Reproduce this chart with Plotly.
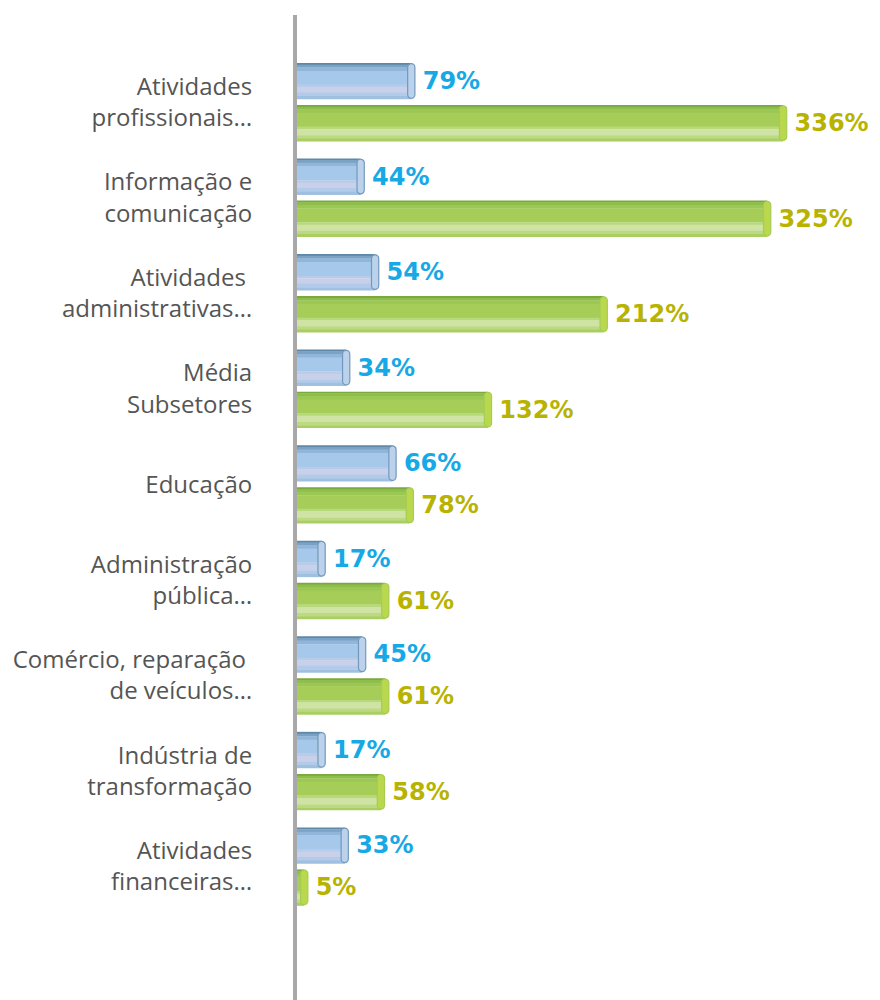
import plotly.graph_objects as go

categories = [
    "Atividades<br>profissionais…",
    "Informação e<br>comunicação",
    "Atividades <br>administrativas…",
    "Média<br>Subsetores",
    "Educação",
    "Administração<br>pública…",
    "Comércio, reparação <br>de veículos…",
    "Indústria de<br>transformação",
    "Atividades<br>financeiras…",
]
blue_values = [79, 44, 54, 34, 66, 17, 45, 17, 33]
green_values = [336, 325, 212, 132, 78, 61, 61, 58, 5]

pos = list(range(len(categories)))

THICK = 0.377
HALF_SHIFT = 0.22
CAP_BACK = 2.5   # cap start behind the bar end (x units)
CAP_LEN = 5.0    # cap length (x units)

# cylinder shading bands: (from-top fraction, to fraction, colour)
blue_bands = [
    (0.00, 0.05, "#5f88a8"),
    (0.05, 0.12, "#7aa2c4"),
    (0.12, 0.22, "#92b6da"),
    (0.22, 0.60, "#a6c8ea"),
    (0.60, 0.67, "#b7cce9"),
    (0.67, 0.82, "#c8d0ea"),
    (0.82, 0.92, "#b3cbea"),
    (0.92, 1.00, "#a0c0e2"),
]
green_bands = [
    (0.00, 0.05, "#7aa93e"),
    (0.05, 0.12, "#8fbd4b"),
    (0.12, 0.22, "#9bc753"),
    (0.22, 0.60, "#a5cd57"),
    (0.60, 0.67, "#b8d87c"),
    (0.67, 0.84, "#cfe4a4"),
    (0.84, 0.93, "#bcd983"),
    (0.93, 1.00, "#a9cf62"),
]

fig = go.Figure()


def add_series(values, center_shift, bands, cap_color, cap_line, text_color):
    top = center_shift - THICK / 2
    for a, b, col in bands:
        fig.add_trace(go.Bar(
            x=values,
            y=pos,
            orientation="h",
            width=THICK * (b - a) + 0.004,
            offset=top + THICK * a,
            marker=dict(color=col, line=dict(width=0)),
            hoverinfo="skip",
            showlegend=False,
        ))
    # end cap of the cylinder
    fig.add_trace(go.Bar(
        x=[CAP_LEN] * len(values),
        base=[v - CAP_BACK for v in values],
        y=pos,
        orientation="h",
        width=THICK * 0.96,
        offset=top + THICK * 0.02,
        marker=dict(color=cap_color, line=dict(width=1.2, color=cap_line), cornerradius=5),
        hoverinfo="skip",
        showlegend=False,
    ))
    # invisible carrier for labels
    fig.add_trace(go.Bar(
        x=[v + CAP_LEN - CAP_BACK for v in values],
        y=pos,
        orientation="h",
        width=THICK,
        offset=top,
        marker=dict(color="rgba(0,0,0,0)", line=dict(width=0)),
        text=[f"\u2009{v}%" for v in values],
        textposition="outside",
        textfont=dict(family="DejaVu Sans", size=24, color=text_color, weight="bold"),
        cliponaxis=False,
        hoverinfo="skip",
        showlegend=False,
    ))


add_series(blue_values, -HALF_SHIFT, blue_bands, "#bcd2ec", "#7299ba", "#17a8e6")
add_series(green_values, HALF_SHIFT, green_bands, "#bad84e", "#a6cc52", "#b7b300")

fig.update_layout(
    width=872,
    height=992,
    barmode="overlay",
    plot_bgcolor="white",
    paper_bgcolor="white",
    margin=dict(l=289, r=0, t=7, b=0),
    xaxis=dict(
        range=[0, 403],
        visible=False,
        showgrid=False,
        zeroline=False,
    ),
    yaxis=dict(
        range=[9.398, -0.9105],
        tickvals=pos,
        ticktext=categories,
        showgrid=False,
        zeroline=False,
        showline=True,
        linecolor="#a8a8a8",
        linewidth=4,
        ticks="",
        ticklabelstandoff=36,
        tickfont=dict(family="Open Sans", size=24, color="#555555"),
    ),
)

fig.write_html("out.html")
